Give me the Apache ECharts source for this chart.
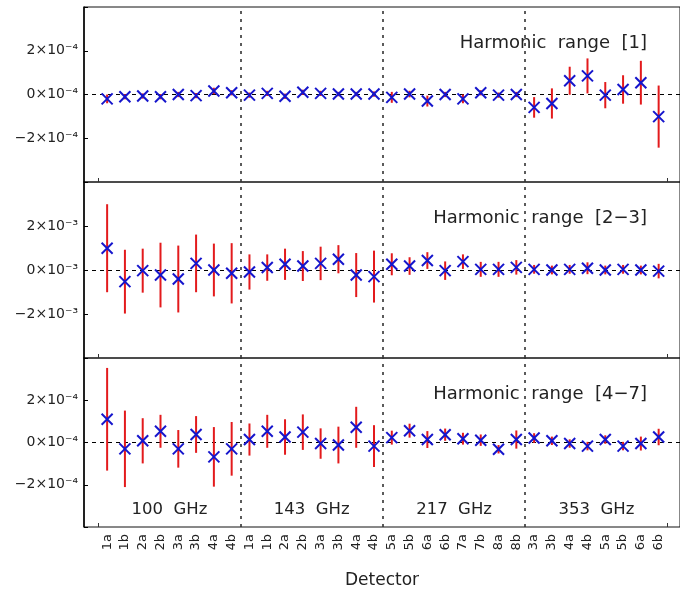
<!DOCTYPE html>
<html>
<head>
<meta charset="utf-8">
<script src="https://cdn.jsdelivr.net/npm/echarts@6/dist/echarts.min.js"></script>
<style>html,body{margin:0;padding:0;background:#fff}#c{width:680px;height:590px}</style>
</head>
<body>
<div id="c"></div>
<script>
const detectors = ['1a','1b','2a','2b','3a','3b','4a','4b','1a','1b','2a','2b','3a','3b','4a','4b','5a','5b','6a','6b','7a','7b','8a','8b','3a','3b','4a','4b','5a','5b','6a','6b'];
const bandNames = ['100  GHz','143  GHz','217  GHz','353  GHz'];
const bandCenters = [3.5, 11.5, 19.5, 27.5];
const bandEdges = [7.5, 15.5, 23.5];

// Harmonic range [1], units of 1e-4
const h1Values = [-0.2,-0.1,-0.07,-0.1,0.0,-0.05,0.16,0.08, -0.03,0.05,-0.08,0.1,0.05,0.02,0.02,0.02, -0.13,0.02,-0.3,0.0,-0.2,0.08,-0.03,0.0, -0.59,-0.41,0.63,0.85,-0.03,0.23,0.54,-1.01];
const h1Errors = [0.2,0.12,0.12,0.12,0.12,0.12,0.15,0.12, 0.12,0.12,0.12,0.12,0.12,0.1,0.1,0.12, 0.25,0.15,0.25,0.12,0.2,0.12,0.12,0.12, 0.47,0.69,0.64,0.8,0.6,0.65,1.0,1.42];
// Harmonic range [2-3], units of 1e-3
const h23Values = [0.99,-0.53,-0.03,-0.23,-0.41,0.3,0.0,-0.15, -0.09,0.11,0.26,0.18,0.3,0.49,-0.23,-0.3, 0.26,0.18,0.43,-0.03,0.38,0.03,0.03,0.12, 0.03,0.0,0.03,0.08,0.0,0.03,0.0,-0.05];
const h23Errors = [2.0,1.45,1.0,1.47,1.52,1.31,1.2,1.37, 0.8,0.6,0.71,0.68,0.76,0.64,1.0,1.18, 0.5,0.4,0.38,0.42,0.33,0.34,0.34,0.33, 0.2,0.2,0.2,0.27,0.2,0.2,0.2,0.33];
// Harmonic range [4-7], units of 1e-4
const h47Values = [1.1,-0.3,0.08,0.53,-0.3,0.38,-0.68,-0.3, 0.14,0.53,0.26,0.49,-0.05,-0.12,0.72,-0.17, 0.23,0.56,0.14,0.37,0.18,0.11,-0.32,0.14, 0.21,0.08,-0.05,-0.17,0.14,-0.17,-0.05,0.26];
const h47Errors = [2.43,1.81,1.07,0.78,0.89,0.87,1.41,1.27, 0.76,0.78,0.84,0.84,0.72,0.87,0.97,0.99, 0.33,0.33,0.4,0.29,0.28,0.27,0.2,0.43, 0.23,0.2,0.2,0.2,0.2,0.2,0.33,0.39];

const panelTitles = ['Harmonic  range  [1]', 'Harmonic  range  [2\u22123]', 'Harmonic  range  [4\u22127]'];
const panelExponents = ['\u207B\u2074', '\u207B\u00B3', '\u207B\u2074'];
const yTicks = [-2, 0, 2];

const FONT = 'DejaVu Sans';
const panels = [
  {values: h1Values, errors: h1Errors},
  {values: h23Values, errors: h23Errors},
  {values: h47Values, errors: h47Errors}
];
const gridTops = [7, 182, 358];
const gridHeights = [175, 176, 175];

function renderErr(params, api) {
  const x = api.value(0), y = api.value(1), e = api.value(2);
  const p = api.coord([x, y]);
  const t = api.coord([x, y + e]);
  const b = api.coord([x, y - e]);
  const s = 5.5;
  return {type: 'group', children: [
    {type: 'line', shape: {x1: p[0], y1: t[1], x2: p[0], y2: b[1]}, style: {stroke: '#e31a1c', lineWidth: 2}},
    {type: 'line', shape: {x1: p[0]-s, y1: p[1]-s, x2: p[0]+s, y2: p[1]+s}, style: {stroke: '#1515cc', lineWidth: 2}},
    {type: 'line', shape: {x1: p[0]-s, y1: p[1]+s, x2: p[0]+s, y2: p[1]-s}, style: {stroke: '#1515cc', lineWidth: 2}}
  ]};
}

const grid = [], xAxis = [], yAxis = [], series = [];
panels.forEach((pn, k) => {
  grid.push({left: 84, right: -3, top: gridTops[k], height: gridHeights[k], show: true, borderColor: '#111', borderWidth: 1, backgroundColor: 'transparent'});
  const isBottom = k === 2;
  xAxis.push({
    type: 'value', gridIndex: k, min: -1.3, max: 32.2,
    axisLine: {show: false, onZero: false},
    splitLine: {show: false},
    axisTick: {show: true, inside: true, length: 4, customValues: [-0.5, 31.5], lineStyle: {color: '#333'}},
    axisLabel: isBottom ? {
      show: true, customValues: detectors.map((d, i) => i), rotate: 90, margin: 7,
      formatter: v => detectors[Math.round(v)] || '',
      fontFamily: FONT, fontSize: 13, color: '#222'
    } : {show: false},
    name: isBottom ? 'Detector' : '', nameLocation: 'middle', nameGap: 45,
    nameTextStyle: {fontFamily: FONT, fontSize: 17, color: '#222'}
  });
  yAxis.push({
    type: 'value', gridIndex: k, min: -4, max: 4, interval: 2,
    axisLine: {show: true, onZero: false, lineStyle: {color: '#000', width: 1.5}},
    axisTick: {show: true, inside: true, length: 4, lineStyle: {color: '#000'}},
    splitLine: {show: false},
    axisLabel: {
      margin: 6, fontFamily: FONT, fontSize: 14, color: '#222',
      formatter: v => yTicks.indexOf(v) >= 0 ? ((v < 0 ? '\u2212' + Math.abs(v) : String(v)) + '\u00D710' + panelExponents[k]) : ''
    }
  });
  series.push({
    type: 'custom', xAxisIndex: k, yAxisIndex: k,
    data: pn.values.map((v, i) => [i, v, pn.errors[i]]),
    encode: {x: 0, y: 1},
    renderItem: renderErr,
    z: 5,
    markLine: {
      silent: true, symbol: 'none', label: {show: false}, z: 1,
      data: [
        {yAxis: 0, lineStyle: {type: [4, 4], color: '#000', width: 1}},
        ...bandEdges.map(e => ({xAxis: e, lineStyle: {type: [3, 5], color: '#333', width: 1.6}}))
      ]
    }
  });
});

// band labels in the bottom panel
series.push({
  type: 'custom', xAxisIndex: 2, yAxisIndex: 2,
  data: bandNames.map((n, i) => [bandCenters[i], -3.17, n]),
  encode: {x: 0, y: 1},
  renderItem: (params, api) => {
    const p = api.coord([api.value(0), api.value(1)]);
    return {type: 'text', x: p[0], y: p[1], style: {text: bandNames[params.dataIndex], fontFamily: FONT, fontSize: 16.5, fill: '#222', align: 'center', verticalAlign: 'middle'}};
  },
  z: 6
});

const titleY = [45, 220, 396];
const graphic = panelTitles.map((t, k) => ({
  type: 'text', right: 33, top: titleY[k] - 11,
  style: {text: t, fontFamily: FONT, fontSize: 18, fill: '#222'}
}));

const chart = echarts.init(document.getElementById('c'), null, {renderer: 'canvas'});
chart.setOption({animation: false, backgroundColor: '#fff', grid, xAxis, yAxis, series, graphic});
</script>
</body>
</html>
